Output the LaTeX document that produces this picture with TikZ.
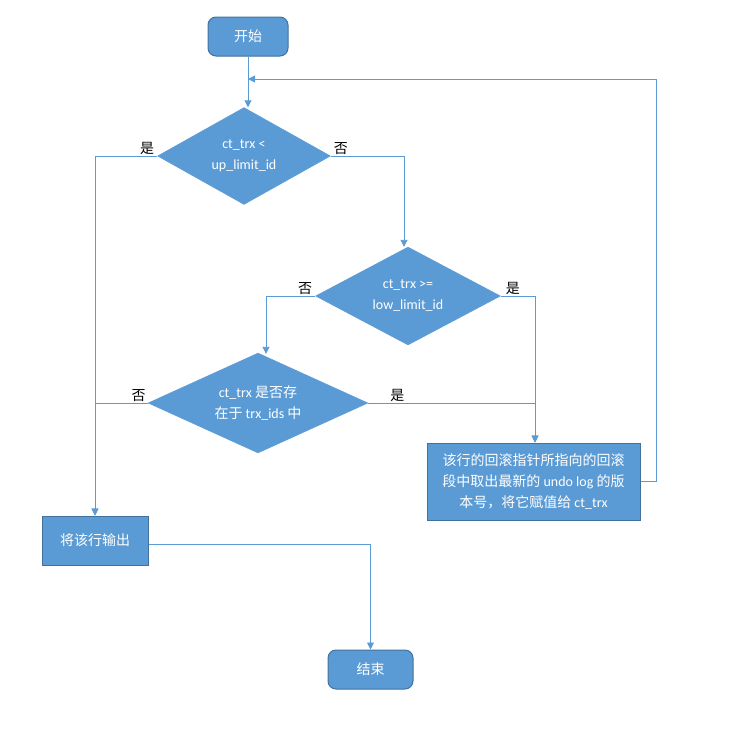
\documentclass[tikz,border=0pt]{standalone}
\usepackage{fontspec}
\setmainfont{Carlito}
\newfontfamily\cjk{Noto Sans CJK SC}
\usetikzlibrary{positioning,shapes.geometric,arrows.meta}

\definecolor{boxblue}{HTML}{5B9BD5}
\definecolor{edgeblue}{HTML}{41719C}

\begin{document}
\begin{tikzpicture}
        [x=1pt,y=-1pt,
         every node/.style={font=\fontsize{14}{21}\selectfont},
         term/.style={rectangle,rounded corners=8pt,fill=boxblue,draw=edgeblue,line width=1pt,
                      text=white,minimum width=80pt,minimum height=39pt},
         proc/.style={rectangle,fill=boxblue,draw=edgeblue,line width=1pt,text=white,align=center},
         decision/.style={diamond,aspect=1.8,fill=boxblue,draw=boxblue,text=white,
                          align=center,inner sep=0pt},
         yn/.style={inner sep=1pt,font=\fontsize{14}{16}\selectfont\cjk},
         flow/.style={draw=boxblue,line width=0.9pt,-{Triangle[width=7pt,length=7pt]}}]
        \useasboundingbox (0,0) rectangle (754,745);

        \node[term] (start) at (248,36.5) {\cjk 开始};
        \node[decision,minimum width=173pt,minimum height=97pt] (d1) at (244,156)
            {ct\_trx <\\up\_limit\_id};
        \node[decision,minimum width=185pt,minimum height=98pt] (d2) at (408,296)
            {ct\_trx >=\\low\_limit\_id};
        \node[decision,minimum width=220pt,minimum height=100pt] (d3) at (258,403)
            {ct\_trx {\cjk 是否存}\\{\cjk 在于} trx\_ids {\cjk 中}};
        \node[proc,minimum width=213pt,minimum height=77pt] (undo) at (533.5,481.5)
            {{\cjk 该行的回滚指针所指向的回滚}\\{\cjk 段中取出最新的} undo log {\cjk 的版}\\{\cjk 本号，将它赋值给} ct\_trx};
        \node[proc,minimum width=106pt,minimum height=49pt] (out) at (95,540.5) {\cjk 将该行输出};
        \node[term,minimum width=85pt] (stop) at (370.5,669.5) {\cjk 结束};

        % yes / no labels
        \node[yn,above left=0pt and 2pt of d1.west] (d1y) {是};
        \node[yn,above right=0pt and 2pt of d1.east] (d1n) {否};
        \node[yn,above left=0pt and 2pt of d2.west] (d2n) {否};
        \node[yn,above right=0pt and 4pt of d2.east] (d2y) {是};
        \node[yn,above left=0pt and 1pt of d3.west] (d3n) {否};
        \node[yn,above right=0pt and 21pt of d3.east] (d3y) {是};

        \coordinate (ret) at (656,79);
        \coordinate (loop) at (248,79);

        \draw[flow] (start.south) -- (start.south |- d1.north);
        \foreach \from in {d1, d3}
            \draw[flow] (\from.west) -- (\from.west -| out.north) -- (out.north);
        \draw[flow] (d1.east) -| ([xshift=-4pt]d2.north);
        \draw[flow] (d2.west) -| ([xshift=8pt,yshift=-1pt]d3.north);
        \foreach \from in {d2, d3}
            \draw[flow] (\from.east) -| ([xshift=1.5pt]undo.north);
        \draw[flow] (undo.east) -| (ret) -- (loop);
        \draw[flow] ([yshift=-4pt]out.east) -| (stop);

      \end{tikzpicture}
\end{document}
